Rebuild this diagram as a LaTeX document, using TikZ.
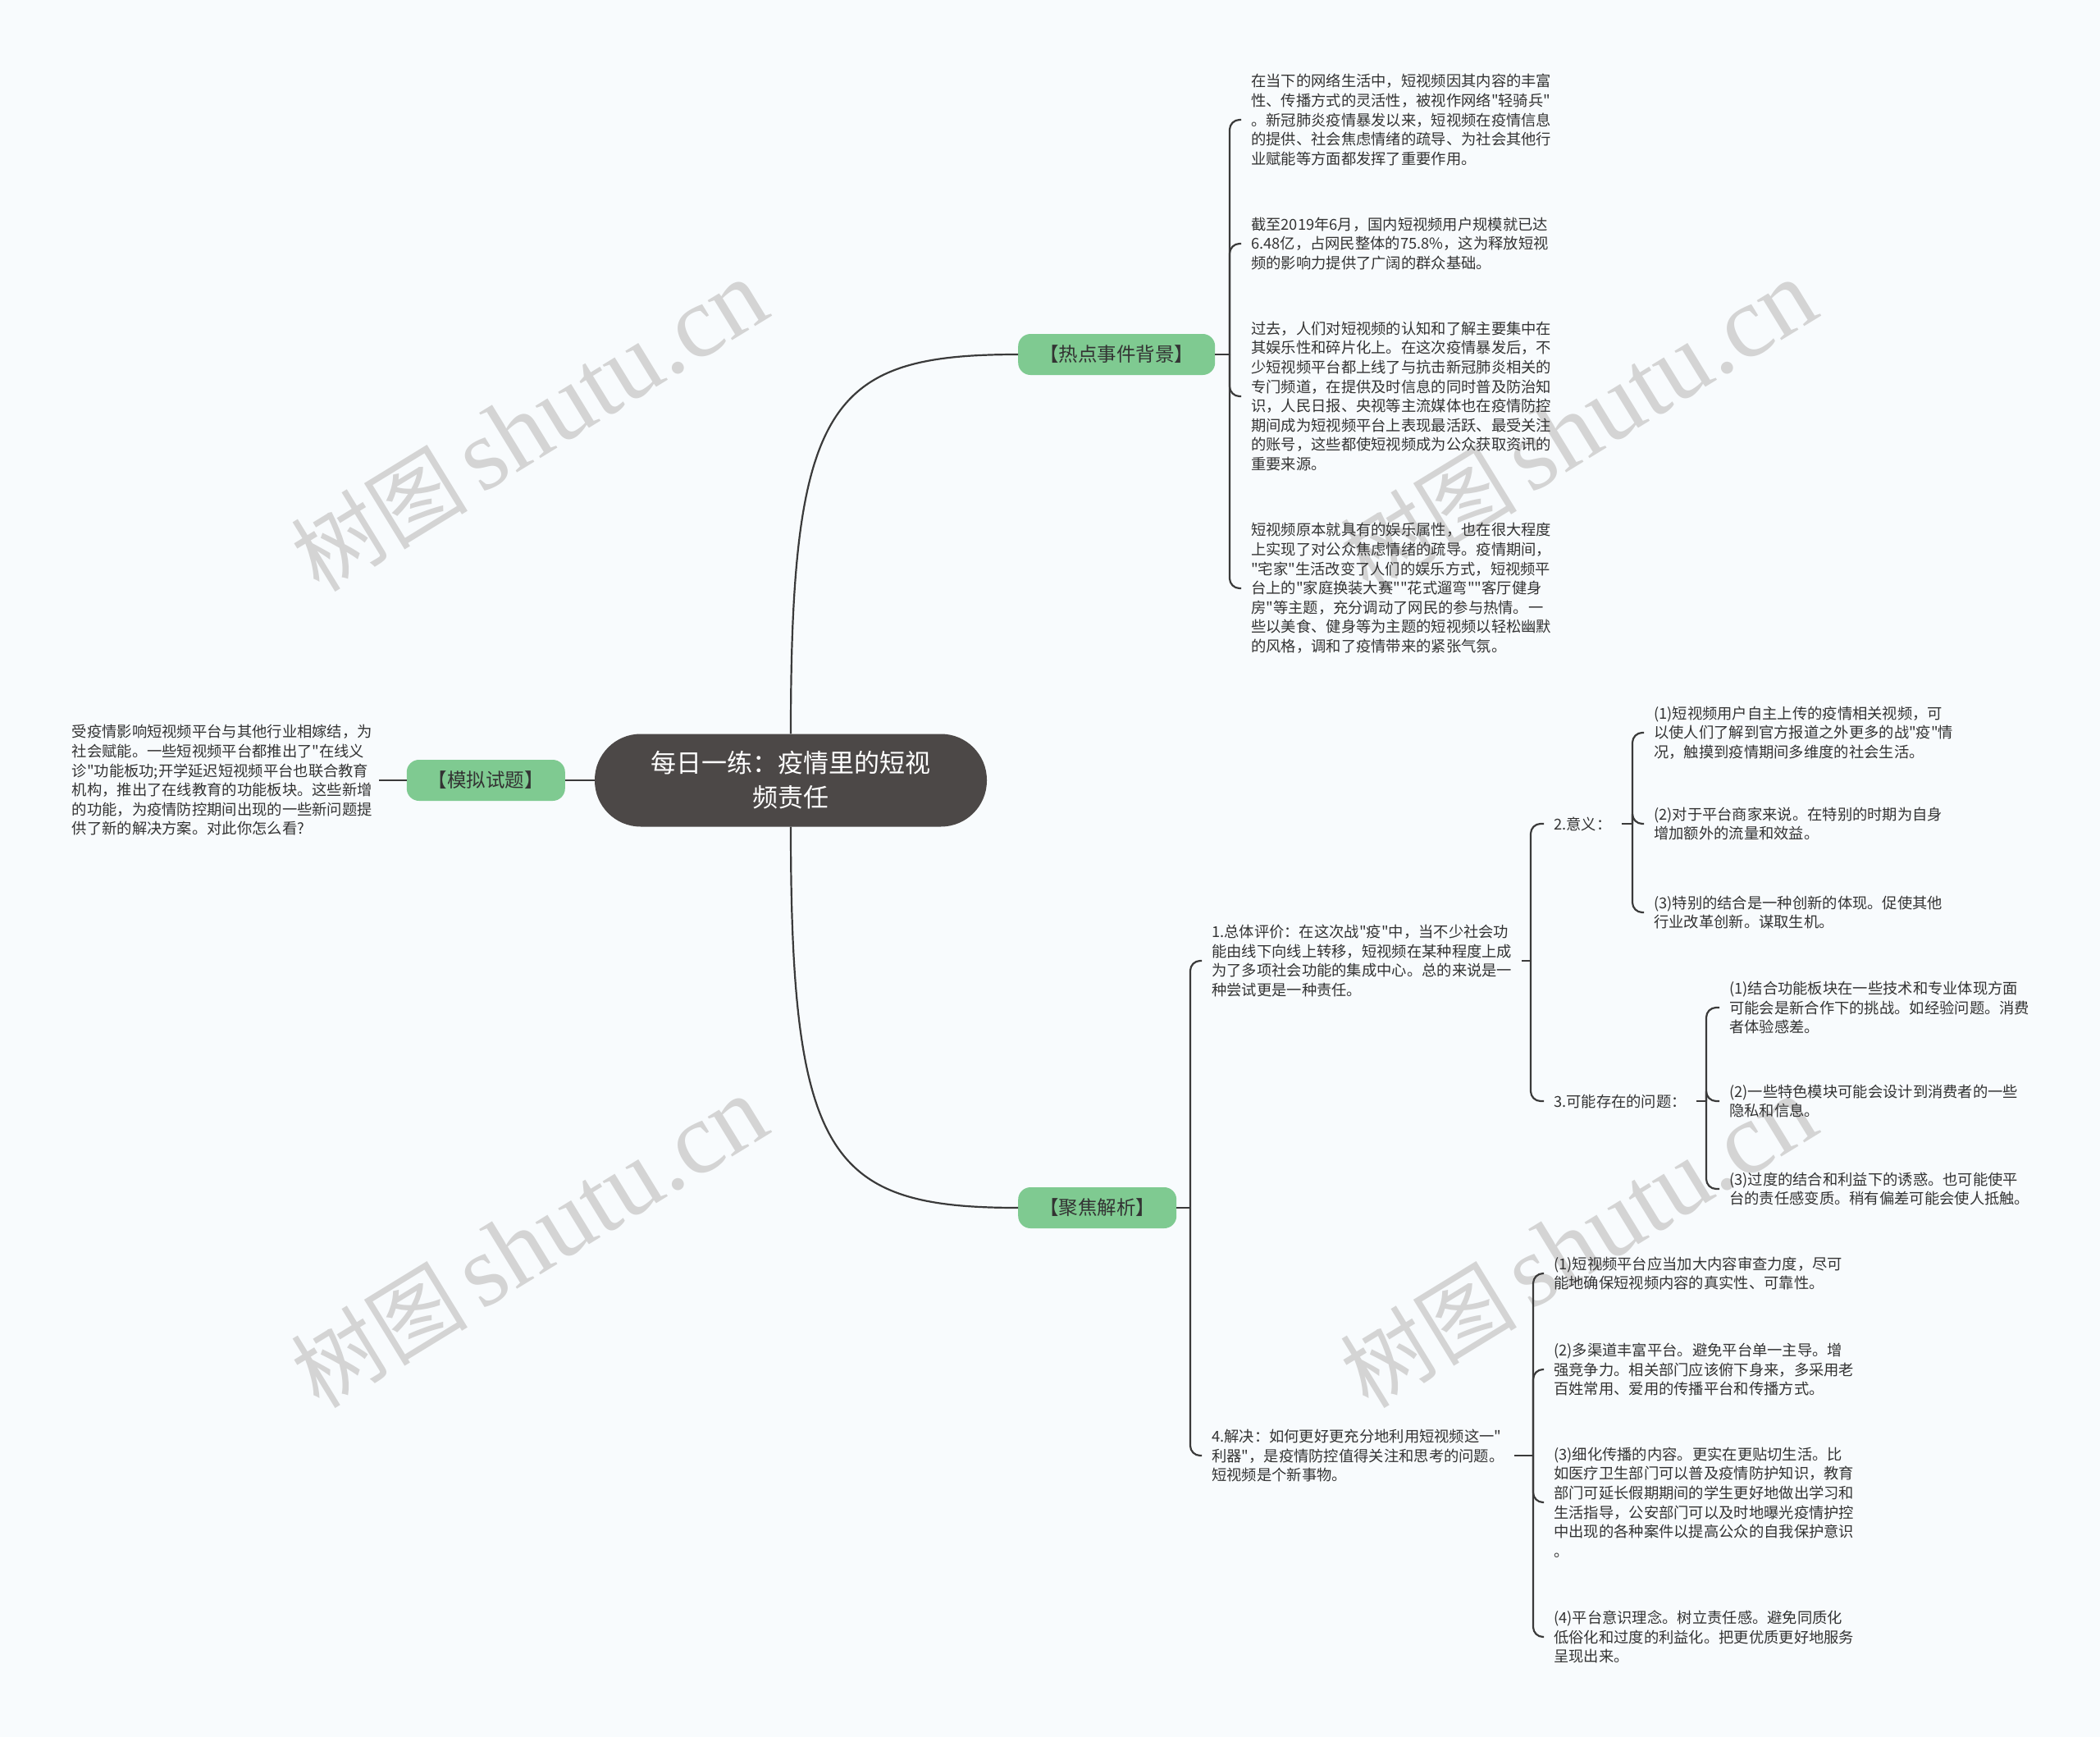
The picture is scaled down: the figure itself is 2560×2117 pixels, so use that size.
\documentclass[tikz,border=0pt]{standalone}
\usepackage{fontspec}
\setmainfont{Noto Sans CJK SC}[Ligatures=ResetAll]
\newfontfamily\cjkf{Noto Sans CJK SC}
\newfontfamily\wmserif{Liberation Serif}
\definecolor{bg}{RGB}{248,251,253}
\definecolor{edgecol}{RGB}{58,58,58}
\definecolor{topicgreen}{RGB}{127,202,145}
\definecolor{rootfill}{RGB}{76,72,71}
\definecolor{wmcol}{RGB}{212,212,212}
\definecolor{txtcol}{RGB}{51,51,51}
\begin{document}
\begin{tikzpicture}[x=1pt,y=-1pt,
  conn/.style={draw=edgecol,line width=2.2pt},
  branch/.style={conn,rounded corners=12pt},
  leaf/.style={anchor=west,align=left,inner xsep=12pt,inner ysep=2pt,text=txtcol,font=\cjkf\fontsize{18.3}{23.6}\selectfont},
  topic/.style={fill=topicgreen,rounded corners=15pt,minimum height=50pt,inner xsep=26pt,text=txtcol,font=\cjkf\fontsize{23.5}{28}\selectfont},
  rootbox/.style={fill=rootfill,rounded corners=56pt,minimum width=478pt,minimum height=113pt,align=center,text=white,font=\cjkf\fontsize{31}{42}\selectfont},
  wmark/.style={text=wmcol,rotate=31.5,inner sep=0pt}]
\fill[bg] (0,0) rectangle (2560,2117);
\useasboundingbox (0,0) rectangle (2560,2117);
% watermarks
\node[wmark] (wm1) at (645,519) {\cjkf\fontsize{108}{112}\selectfont 树图\hspace{16pt}\wmserif\fontsize{124}{124}\selectfont shutu.cn};
\node[wmark] (wm2) at (645,1514) {\cjkf\fontsize{108}{112}\selectfont 树图\hspace{16pt}\wmserif\fontsize{124}{124}\selectfont shutu.cn};
\node[wmark] (wm3) at (1924,519) {\cjkf\fontsize{108}{112}\selectfont 树图\hspace{16pt}\wmserif\fontsize{124}{124}\selectfont shutu.cn};
\node[wmark] (wm4) at (1924,1514) {\cjkf\fontsize{108}{112}\selectfont 树图\hspace{16pt}\wmserif\fontsize{124}{124}\selectfont shutu.cn};
% root and topics
\node[rootbox] (root) at (964,951) {每日一练：疫情里的短视\\频责任};
\node[topic,anchor=west] (hot) at (1241,432) {【热点事件背景】};
\node[topic,anchor=east] (mock) at (689,951) {【模拟试题】};
\node[topic,anchor=west] (focus) at (1241,1472) {【聚焦解析】};
% hot leaves
\node[leaf] (h1) at (1513,146) {在当下的网络生活中，短视频因其内容的丰富\\性、传播方式的灵活性，被视作网络"轻骑兵"\\。新冠肺炎疫情暴发以来，短视频在疫情信息\\的提供、社会焦虑情绪的疏导、为社会其他行\\业赋能等方面都发挥了重要作用。};
\node[leaf] (h2) at (1513,297) {截至2019年6月，国内短视频用户规模就已达\\6.48亿，占网民整体的75.8\%，这为释放短视\\频的影响力提供了广阔的群众基础。};
\node[leaf] (h3) at (1513,483) {过去，人们对短视频的认知和了解主要集中在\\其娱乐性和碎片化上。在这次疫情暴发后，不\\少短视频平台都上线了与抗击新冠肺炎相关的\\专门频道，在提供及时信息的同时普及防治知\\识，人民日报、央视等主流媒体也在疫情防控\\期间成为短视频平台上表现最活跃、最受关注\\的账号，这些都使短视频成为公众获取资讯的\\重要来源。};
\node[leaf] (h4) at (1513,717) {短视频原本就具有的娱乐属性，也在很大程度\\上实现了对公众焦虑情绪的疏导。疫情期间，\\"宅家"生活改变了人们的娱乐方式，短视频平\\台上的"家庭换装大赛""花式遛弯""客厅健身\\房"等主题，充分调动了网民的参与热情。一\\些以美食、健身等为主题的短视频以轻松幽默\\的风格，调和了疫情带来的紧张气氛。};
% mock leaf
\node[leaf,anchor=east,inner xsep=8pt] (m1) at (462,951) {受疫情影响短视频平台与其他行业相嫁结，为\\社会赋能。一些短视频平台都推出了"在线义\\诊"功能板功;开学延迟短视频平台也联合教育\\机构，推出了在线教育的功能板块。这些新增\\的功能，为疫情防控期间出现的一些新问题提\\供了新的解决方案。对此你怎么看?};
% focus leaves
\node[leaf] (b1) at (1465,1171) {1.总体评价：在这次战"疫"中，当不少社会功\\能由线下向线上转移，短视频在某种程度上成\\为了多项社会功能的集成中心。总的来说是一\\种尝试更是一种责任。};
\node[leaf] (b2) at (1465,1774) {4.解决：如何更好更充分地利用短视频这一"\\利器"，是疫情防控值得关注和思考的问题。\\短视频是个新事物。};
\node[leaf] (b1a) at (1882,1004) {2.意义：};
\node[leaf] (b1b) at (1882,1342) {3.可能存在的问题：};
\node[leaf] (a1) at (2004,893) {(1)短视频用户自主上传的疫情相关视频，可\\以使人们了解到官方报道之外更多的战"疫"情\\况，触摸到疫情期间多维度的社会生活。};
\node[leaf] (a2) at (2004,1004) {(2)对于平台商家来说。在特别的时期为自身\\增加额外的流量和效益。};
\node[leaf] (a3) at (2004,1112) {(3)特别的结合是一种创新的体现。促使其他\\行业改革创新。谋取生机。};
\node[leaf] (p1) at (2096,1228) {(1)结合功能板块在一些技术和专业体现方面\\可能会是新合作下的挑战。如经验问题。消费\\者体验感差。};
\node[leaf] (p2) at (2096,1342) {(2)一些特色模块可能会设计到消费者的一些\\隐私和信息。};
\node[leaf] (p3) at (2096,1449) {(3)过度的结合和利益下的诱惑。也可能使平\\台的责任感变质。稍有偏差可能会使人抵触。};
\node[leaf] (s1) at (1882,1552) {(1)短视频平台应当加大内容审查力度，尽可\\能地确保短视频内容的真实性、可靠性。};
\node[leaf] (s2) at (1882,1669) {(2)多渠道丰富平台。避免平台单一主导。增\\强竞争力。相关部门应该俯下身来，多采用老\\百姓常用、爱用的传播平台和传播方式。};
\node[leaf] (s3) at (1882,1831) {(3)细化传播的内容。更实在更贴切生活。比\\如医疗卫生部门可以普及疫情防护知识，教育\\部门可延长假期期间的学生更好地做出学习和\\生活指导，公安部门可以及时地曝光疫情护控\\中出现的各种案件以提高公众的自我保护意识\\。};
\node[leaf] (s4) at (1882,1995) {(4)平台意识理念。树立责任感。避免同质化\\低俗化和过度的利益化。把更优质更好地服务\\呈现出来。};
% connectors
\draw[conn] (root.north) .. controls +(0,-405) and +(-229,0) .. (hot.west);
\draw[conn] (root.south) .. controls +(0,405) and +(-229,0) .. (focus.west);
\draw[conn] (root.west) -- (mock.east);
\draw[conn] (mock.west) -- (m1.east);
\coordinate (sh) at (1499,432);
\draw[conn] (hot.east) -- (sh);
\foreach \c in {h1,h2,h3,h4} \draw[branch] (sh) |- (\c.west);
\coordinate (sf) at (1451,1472);
\draw[conn] (focus.east) -- (sf);
\foreach \c in {b1,b2} \draw[branch] (sf) |- (\c.west);
\coordinate (sb1) at (1866,1171);
\draw[conn] (b1.east) -- (sb1);
\foreach \c in {b1a,b1b} \draw[branch] (sb1) |- (\c.west);
\coordinate (sa) at (1990,1004);
\draw[conn] (b1a.east) -- (sa);
\foreach \c in {a1,a2,a3} \draw[branch] (sa) |- (\c.west);
\coordinate (sp) at (2080,1342);
\draw[conn] (b1b.east) -- (sp);
\foreach \c in {p1,p2,p3} \draw[branch] (sp) |- (\c.west);
\coordinate (sb2) at (1869,1774);
\draw[conn] (b2.east) -- (sb2);
\foreach \c in {s1,s2,s3,s4} \draw[branch] (sb2) |- (\c.west);
\end{tikzpicture}
\end{document}
